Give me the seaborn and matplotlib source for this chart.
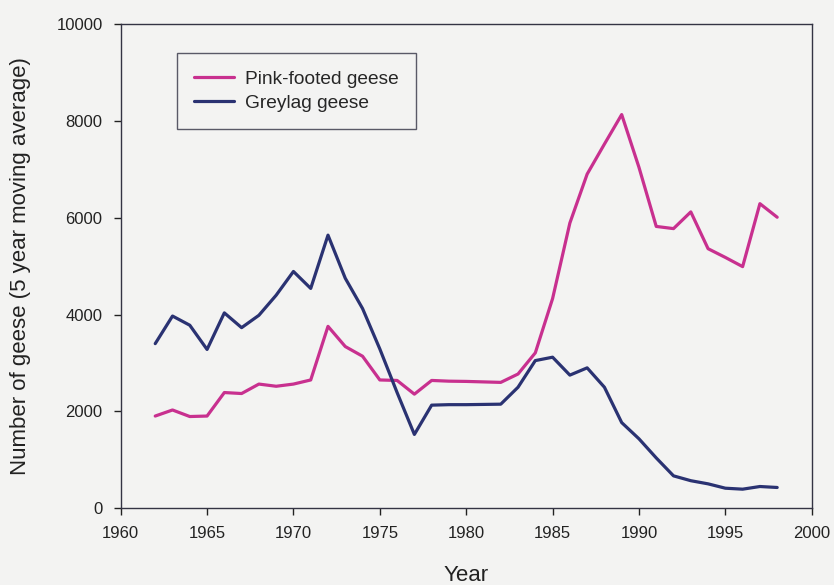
import matplotlib
matplotlib.use('Agg')
import pandas as pd
import seaborn as sns
import matplotlib.pyplot as plt

# Goose counts, 5 year moving average
years = list(range(1962, 1999))
pink_footed = [1905, 2030, 1895, 1905, 2390, 2370, 2565, 2520, 2565, 2650,
               3757, 3340, 3140, 2650, 2640, 2357, 2640, 2625, 2620, 2610,
               2600, 2773, 3210, 4330, 5890, 6900, 7520, 8130, 7040, 5820,
               5775, 6120, 5360, 5180, 4990, 6290, 6010]
greylag = [3400, 3970, 3780, 3280, 4035, 3730, 3985, 4400, 4890, 4540,
           5640, 4750, 4125, 3290, 2390, 1525, 2130, 2140, 2140, 2145,
           2150, 2500, 3050, 3120, 2750, 2900, 2500, 1770, 1435, 1040,
           670, 570, 505, 415, 395, 450, 430]

df = pd.DataFrame({
    'Year': years * 2,
    'Geese': pink_footed + greylag,
    'Species': ['Pink-footed geese'] * len(years) + ['Greylag geese'] * len(years),
})

sns.set_style('ticks')
plt.rcParams['font.family'] = ['Liberation Sans', 'DejaVu Sans']

fig = plt.figure(figsize=(8.34, 5.85), dpi=100, facecolor='#f3f3f2')
ax = fig.add_axes([0.1447, 0.1311, 0.8286, 0.8279])
ax.set_facecolor('#f3f3f2')

sns.lineplot(data=df, x='Year', y='Geese', hue='Species',
             palette={'Pink-footed geese': '#c8308f', 'Greylag geese': '#2a3272'},
             linewidth=2.3, ax=ax)

ax.set_xlim(1960, 2000)
ax.set_ylim(0, 10000)
ax.set_xticks(range(1960, 2001, 5))
ax.set_yticks(range(0, 10001, 2000))
ax.tick_params(labelsize=12, colors='#222222', direction='out', length=5, width=1, pad=8)
for s in ax.spines.values():
    s.set_color('#333344')
    s.set_linewidth(1)

ax.set_xlabel('Year', fontsize=16, color='#222222', labelpad=17)
ax.set_ylabel('Number of geese (5 year moving average)', fontsize=16,
              color='#222222', labelpad=18)

leg = ax.legend(loc='upper left', bbox_to_anchor=(0.0815, 0.94), borderaxespad=0,
                fontsize=13.75, frameon=True, fancybox=False, edgecolor='#333344',
                facecolor='#f3f3f2', handlelength=2.1, handletextpad=0.56,
                borderpad=0.9, labelspacing=0.35)
leg.get_frame().set_linewidth(1)

fig.savefig('out.png', dpi=100, facecolor=fig.get_facecolor())
